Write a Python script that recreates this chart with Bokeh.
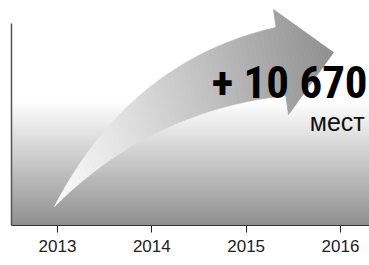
from bokeh.plotting import figure
from bokeh.models import Range1d, FixedTicker
from bokeh.core.properties import value
from bokeh.embed import file_html
from bokeh.resources import INLINE
import numpy as np

# ---- data ----
years = [2013, 2014, 2015, 2016]
tick_labels = ["2013", "2014", "2015", "2016"]
headline = "+ 10 670"
unit = "мест"

# ---- layout ----
W, H = 369, 265
x_start, x_end = 2013 - 46 / 94.33, 2013 + 312 / 94.33
y_start, y_end = 0, 225

p = figure(width=W, height=H, output_backend="svg", toolbar_location=None,
           x_range=Range1d(x_start, x_end), y_range=Range1d(y_start, y_end),
           min_border_left=11, min_border_right=0, min_border_top=0,
           min_border_bottom=40)
p.outline_line_color = None
p.xgrid.grid_line_color = None
p.ygrid.grid_line_color = None
p.background_fill_color = "white"
p.border_fill_color = "white"

# ---- background gradient band ----
def grey(v):
    v = int(round(max(0, min(255, v))))
    return "#%02x%02x%02x" % (v, v, v)

n = 125
bottoms = np.arange(0, n)
tops = bottoms + 1
cols = [grey(0x8a + (0xff - 0x8a) * ((b + 0.5) / n)) for b in bottoms]
p.quad(left=x_start, right=x_end, bottom=bottoms, top=tops,
       fill_color=cols, line_color=cols, line_width=0.6)

# ---- arrow (decorative) ----
a0 = years[0]
tail = np.array([a0 - 0.032, 19.0])
h_top = np.array([a0 + 2.290, 216.0])
h_tip = np.array([a0 + 2.926, 173.0])
h_bot = np.array([a0 + 2.449, 111.0])

def on_base(yv):
    f = (h_top[1] - yv) / (h_top[1] - h_bot[1])
    return np.array([h_top[0] + f * (h_bot[0] - h_top[0]), yv])

up_c = np.array([a0 + 0.774, 165.0])
up_e = on_base(198.0)
lo_c = np.array([a0 + 0.986, 115.0])
lo_e = on_base(130.0)

def bez(p0, p1, p2, t):
    return ((1 - t) ** 2)[:, None] * p0 + (2 * (1 - t) * t)[:, None] * p1 + (t ** 2)[:, None] * p2

def arrow_col(x):
    f = (x - tail[0]) / (h_tip[0] - tail[0])
    f = max(0, min(1, f))
    return grey(0xfc - (0xfc - 0x8e) * f)

N = 60
t = np.linspace(0, 1, N + 1)
U = bez(tail, up_c, up_e, t)
L = bez(tail, lo_c, lo_e, t)
xs, ys, fc = [], [], []
for i in range(N):
    px = [U[i, 0], U[i + 1, 0], L[i + 1, 0], L[i, 0]]
    py = [U[i, 1], U[i + 1, 1], L[i + 1, 1], L[i, 1]]
    xs.append(px); ys.append(py)
    fc.append(arrow_col(np.mean(px)))
M = 20
s = np.linspace(0, 1, M + 1)
for i in range(M):
    tA = h_top + (h_tip - h_top) * s[i]
    tB = h_top + (h_tip - h_top) * s[i + 1]
    bA = h_bot + (h_tip - h_bot) * s[i]
    bB = h_bot + (h_tip - h_bot) * s[i + 1]
    px = [tA[0], tB[0], bB[0], bA[0]]
    py = [tA[1], tB[1], bB[1], bA[1]]
    xs.append(px); ys.append(py)
    fc.append(arrow_col(np.mean(px)))
p.patches(xs, ys, fill_color=fc, line_color=fc, line_width=0.7)

# ---- texts ----
p.text(x=[x_end - 0.02], y=[143], text=[headline], text_align="right",
       text_baseline="alphabetic", text_font=value("Roboto Condensed"),
       text_font_style="bold", text_font_size="45px", text_color="#000000")
p.text(x=[x_end - 0.05], y=[104], text=[unit], text_align="right",
       text_baseline="alphabetic", text_font=value("Liberation Sans"),
       text_font_size="25px", text_color="#111111")

# ---- axes ----
p.xaxis.ticker = FixedTicker(ticks=years)
p.xaxis.major_label_overrides = {y: l for y, l in zip(years, tick_labels)}
p.xaxis.minor_tick_line_color = None
p.xaxis.major_tick_in = 0
p.xaxis.major_tick_out = 7
p.xaxis.major_tick_line_color = "#222222"
p.xaxis.axis_line_color = "#333333"
p.xaxis.major_label_standoff = 7
p.xaxis.major_label_text_font = "Liberation Sans"
p.xaxis.major_label_text_font_size = "17px"
p.xaxis.major_label_text_color = "#222222"

p.yaxis.ticker = FixedTicker(ticks=[])
p.yaxis.bounds = (0, 202)
p.yaxis.major_tick_out = 0
p.yaxis.major_tick_in = 0
p.yaxis.minor_tick_out = 0
p.yaxis.minor_tick_in = 0
p.yaxis.major_label_standoff = 0
p.yaxis.axis_line_color = "#555555"
p.yaxis.axis_line_width = 1.5

open("out.html", "w").write(file_html(p, INLINE))
